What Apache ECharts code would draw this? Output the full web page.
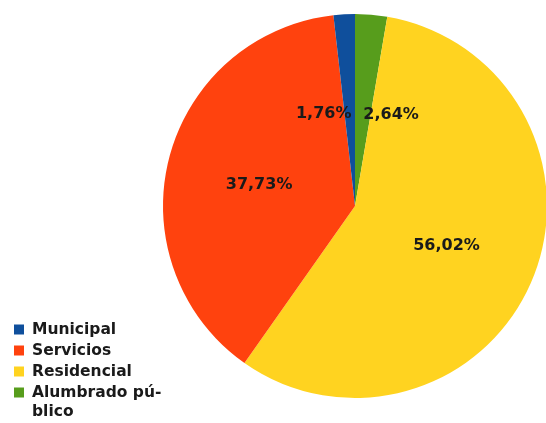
<!DOCTYPE html>
<html>
<head>
<meta charset="utf-8">
<script src="https://cdn.jsdelivr.net/npm/echarts@6/dist/echarts.min.js"></script>
<style>
  html, body { margin: 0; padding: 0; background: #ffffff; }
  #chart { width: 546px; height: 423px; }
</style>
</head>
<body>
<div id="chart"></div>
<script>
// Electricity consumption share by sector (drawn clockwise from 12 o'clock)
const sectors = ['Alumbrado público', 'Residencial', 'Servicios', 'Municipal'];
const shares = [2.64, 56.02, 37.73, 1.76];
const colors = ['#579d1c', '#ffd320', '#ff420e', '#0f4f9c'];
// Legend lists the sectors in this order
const legendOrder = ['Municipal', 'Servicios', 'Residencial', 'Alumbrado público'];

const chart = echarts.init(document.getElementById('chart'));
const fontFamily = 'DejaVu Sans';
const rowHeight = 21;
const legendTop = 314;
const legendTextStyle = { fontFamily, fontWeight: 'bold', fontSize: 15.5, fill: '#1a1a1a' };

// The two narrow slices at the top get their labels pushed apart
// (one right-aligned, one left-aligned) so they sit side by side.
function placeLabel(p) {
  const name = sectors[p.dataIndex];
  if (name === 'Municipal') return { align: 'right', dx: 2, dy: 7 };
  if (name === 'Alumbrado público') return { align: 'left', dy: 7 };
  if (name === 'Servicios') return { dy: 3 };
  return { dy: 2 };
}

chart.setOption({
  animation: false,
  color: colors,
  legend: {
    data: legendOrder,
    orient: 'vertical',
    left: 9,
    top: legendTop,
    height: 160,
    itemWidth: 10,
    itemHeight: 10,
    itemGap: 0,
    icon: 'rect',
    textStyle: {
      fontFamily, fontWeight: 'bold', fontSize: 15.5, color: '#1a1a1a',
      lineHeight: rowHeight, padding: [0, 0, 0, 3]
    },
    // the long name is hyphenated; its second line is drawn below
    formatter: name => name === 'Alumbrado público' ? 'Alumbrado pú-' : name
  },
  graphic: [{
    type: 'text',
    left: 32,
    top: legendTop + 5 + rowHeight * 4 + 1,
    style: Object.assign({ text: 'blico' }, legendTextStyle)
  }],
  series: [{
    type: 'pie',
    center: [355, 206],
    radius: 192,
    startAngle: 90,
    clockwise: true,
    data: sectors.map((n, i) => ({ name: n, value: shares[i] })),
    label: {
      position: 'inside',
      fontFamily,
      fontWeight: 'bold',
      fontSize: 16,
      color: '#1a1a1a',
      formatter: p => p.value.toFixed(2).replace('.', ',') + '%'
    },
    labelLayout: placeLabel,
    labelLine: { show: false },
    itemStyle: { borderWidth: 0 },
    emphasis: { disabled: true }
  }]
});
</script>
</body>
</html>
